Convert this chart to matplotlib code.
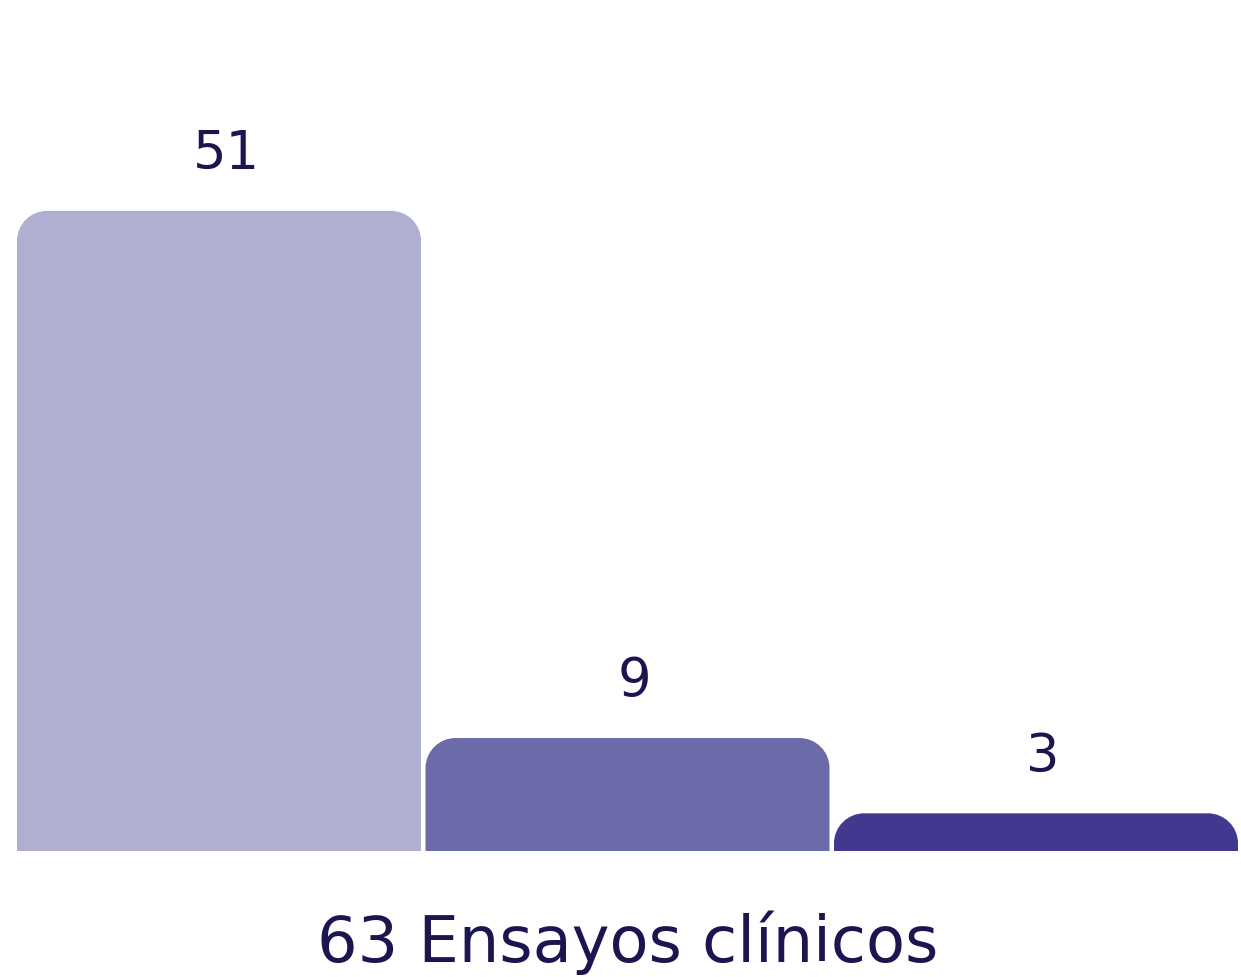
import matplotlib
matplotlib.use("Agg")
import matplotlib.pyplot as plt
from matplotlib.path import Path
from matplotlib.patches import PathPatch

# trial counts per group
labels = ["51", "9", "3"]
values = [51, 9, 3]
colors = ["#AEAFD1", "#6C6BAA", "#41398F"]
title = "63 Ensayos clínicos"
text_color = "#1B1650"

W, H = 1241, 977
bar_w = 0.989
fig = plt.figure(figsize=(W / 100, H / 100), dpi=100)
ax = fig.add_axes([17 / W, (H - 851) / H, 1221 / W, 851 / H])
ax.set_xlim(-bar_w / 2, 2 + bar_w / 2)
ax.set_ylim(0, 67.8)
ax.axis("off")

r_px = 30  # corner radius in pixels
px_x = 1221 / (2 + bar_w)
px_y = 851 / 67.8
rx = r_px / px_x
ry = r_px / px_y
k = 0.5523  # bezier circle constant


def top_rounded(x0, w, h):
    x1 = x0 + w
    ryy = min(ry, h)
    verts = [
        (x0, 0), (x0, h - ryy),
        (x0, h - ryy + k * ryy), (x0 + rx - k * rx, h), (x0 + rx, h),
        (x1 - rx, h),
        (x1 - rx + k * rx, h), (x1, h - ryy + k * ryy), (x1, h - ryy),
        (x1, 0), (x0, 0),
    ]
    codes = [Path.MOVETO, Path.LINETO,
             Path.CURVE4, Path.CURVE4, Path.CURVE4,
             Path.LINETO,
             Path.CURVE4, Path.CURVE4, Path.CURVE4,
             Path.LINETO, Path.CLOSEPOLY]
    return Path(verts, codes)


for i, (v, c, lab) in enumerate(zip(values, colors, labels)):
    p = top_rounded(i - bar_w / 2, bar_w, v)
    ax.add_patch(PathPatch(p, facecolor=c, edgecolor="none"))
    ax.annotate(lab, (i, v), xytext=(5, 30), textcoords="offset points",
                ha="center", va="baseline", fontsize=38,
                color=text_color, family="DejaVu Sans")

fig.text(628 / W, (H - 962) / H, title, ha="center", va="baseline",
         fontsize=46, color=text_color, family="DejaVu Sans")

fig.savefig("out.png", dpi=100)
